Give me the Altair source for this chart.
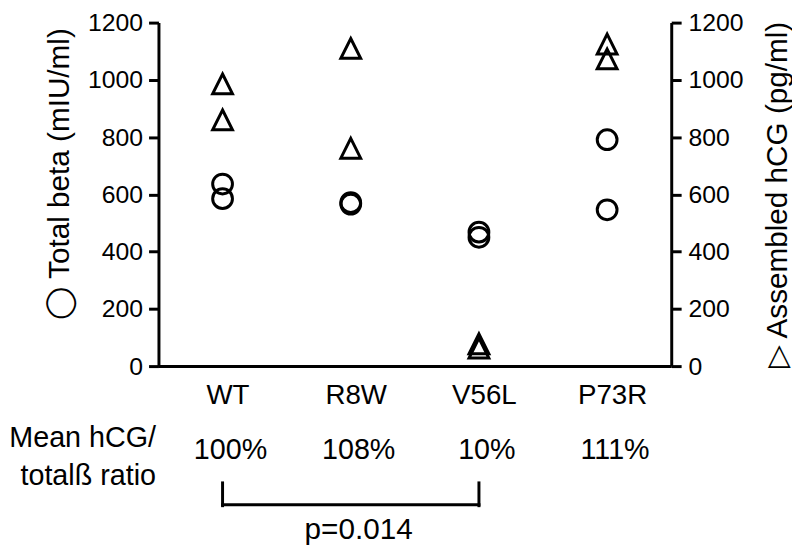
import json
import altair as alt
import pandas as pd

# ---------------- data ----------------
categories = ["WT", "R8W", "V56L", "P73R"]

beta_groups = ["WT", "WT", "R8W", "R8W", "V56L", "V56L", "P73R", "P73R"]
total_beta = [636, 585, 571, 566, 468, 450, 791, 546]          # circles, left axis (mIU/ml)

hcg_groups = ["WT", "WT", "R8W", "R8W", "V56L", "V56L", "P73R", "P73R"]
assembled_hcg = [986, 860, 1110, 761, 78, 63, 1125, 1073]      # triangles, right axis (pg/ml)

ratio_groups = ["WT", "R8W", "V56L", "P73R"]
ratio_labels = ["100%", "108%", "10%", "111%"]
ratio_title_lines = ["Mean hCG/", "totalß ratio"]

bracket_from = "WT"
bracket_to = "V56L"
p_group = "R8W"
p_label = "p=0.014"

y_ticks = [0, 200, 400, 600, 800, 1000, 1200]

# ---------------- layout / style ----------------
FONT = "Liberation Sans, Arial, DejaVu Sans, sans-serif"
W, H = 518, 347
STRIP_H = 134
ROW = {"label": 36.3, "ratio": 49, "bracket_top": 73, "bracket_bottom": 96, "p": 130}

beta_df = pd.DataFrame({"group": beta_groups, "value": total_beta})
hcg_df = pd.DataFrame({"group": hcg_groups, "value": assembled_hcg})
ratio_df = pd.DataFrame({"group": ratio_groups, "label": ratio_labels})
bracket_df = pd.DataFrame({"from": [bracket_from], "to": [bracket_to]})
bracket_ends_df = pd.DataFrame({"group": [bracket_from, bracket_to]})
p_df = pd.DataFrame({"group": [p_group], "label": [p_label]})

xscale = alt.Scale(type="point", domain=categories, padding=0.5)
yscale = alt.Scale(domain=[0, 1200], nice=False, zero=True)

x_top = alt.X(
    "group:N", scale=xscale, title=None,
    axis=alt.Axis(orient="bottom", domain=True, domainWidth=3, ticks=False, tickSize=0,
                  labelFontSize=28, labelPadding=16, labelOffset=5, labelAngle=0, grid=False),
)

common_y_axis = dict(values=y_ticks, format="d", domainWidth=3, tickWidth=3, tickSize=10,
                     labelFontSize=25, grid=False, titleFontSize=30, titleFontWeight="normal",
                     titleAngle=270, titleBaseline="middle", titleAlign="center")

circles = alt.Chart(beta_df).mark_point(
    shape="circle", filled=False, size=400, strokeWidth=3, color="black", opacity=1
).encode(
    x=x_top,
    y=alt.Y("value:Q", scale=yscale,
            axis=alt.Axis(orient="left", title="◯ Total beta (mIU/ml)", labelPadding=6,
                          titleX=-100, titleY=152.5, **common_y_axis)),
)

triangles = alt.Chart(hcg_df).mark_point(
    shape="M0,-1L1,1L-1,1Z", filled=False, size=400, strokeWidth=3, color="black", opacity=1
).encode(
    x=x_top,
    y=alt.Y("value:Q", scale=yscale,
            axis=alt.Axis(orient="right", title="▷ Assembled hCG (pg/ml)", labelPadding=7,
                          titleX=107, titleY=H / 2, **common_y_axis)),
)

top = alt.layer(circles, triangles).resolve_scale(y="independent").properties(width=W, height=H)

# ---------------- annotation strip ----------------
strip_scale = alt.Scale(domain=[0, STRIP_H], reverse=True, nice=False, zero=False)
strip_axis = alt.Axis(orient="left", values=[ROW["label"]], labelExpr=json.dumps(ratio_title_lines, ensure_ascii=False),
                      domain=False, ticks=False, tickSize=0, grid=False, title=None,
                      labelFontSize=29, labelAlign="right", labelBaseline="alphabetic",
                      labelLineHeight=38.4, labelPadding=3)
x_strip = alt.X("group:N", scale=xscale, axis=None)

ratio_text = alt.Chart(ratio_df).mark_text(
    fontSize=29, baseline="alphabetic", align="center", dx=8, color="black"
).encode(
    x=x_strip,
    y=alt.YDatum(ROW["ratio"], type="quantitative", scale=strip_scale, axis=strip_axis),
    text="label:N",
)

bracket_h = alt.Chart(bracket_df).mark_rule(strokeWidth=3, color="black", strokeCap="square").encode(
    x=alt.X("from:N", scale=xscale, axis=None),
    x2=alt.X2("to:N"),
    y=alt.YDatum(ROW["bracket_bottom"] - 1, type="quantitative", scale=strip_scale, axis=strip_axis),
)

bracket_v = alt.Chart(bracket_ends_df).mark_rule(strokeWidth=3, color="black", strokeCap="square").encode(
    x=x_strip,
    y=alt.YDatum(ROW["bracket_top"], type="quantitative", scale=strip_scale, axis=strip_axis),
    y2=alt.Y2Datum(ROW["bracket_bottom"]),
)

p_text = alt.Chart(p_df).mark_text(
    fontSize=30, baseline="alphabetic", align="center", dx=8, color="black"
).encode(
    x=x_strip,
    y=alt.YDatum(ROW["p"], type="quantitative", scale=strip_scale, axis=strip_axis),
    text="label:N",
)

bottom = alt.layer(ratio_text, bracket_h, bracket_v, p_text).properties(width=W, height=STRIP_H)

chart = alt.vconcat(top, bottom, spacing=1).properties(
    padding=0, background="white"
).configure(font=FONT).configure_view(stroke=None).configure_axis(
    labelFont=FONT, titleFont=FONT, labelColor="black", titleColor="black",
    domainColor="black", tickColor="black",
)

chart.save("out.html", embed_options={"renderer": "svg", "actions": False})
